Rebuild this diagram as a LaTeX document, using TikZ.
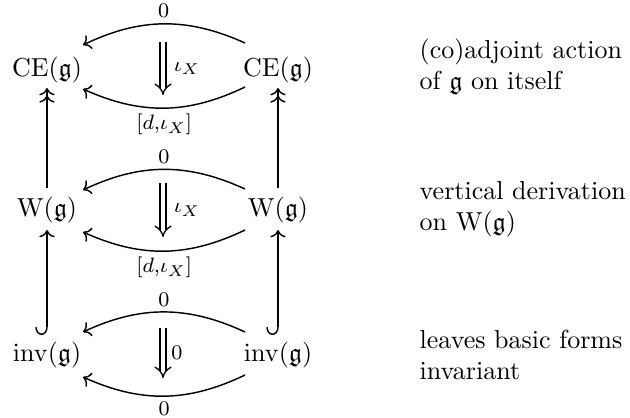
\documentclass[tikz,border=0pt]{standalone}
\usepackage{amssymb}
\usetikzlibrary{arrows,arrows.meta}
\begin{document}
\begin{tikzpicture}[x=0.3846pt,y=-0.3846pt,line width=0.55pt,
  obj/.style={inner sep=1pt},
  lbl/.style={font=\footnotesize,inner sep=2pt},
  upc/.style={->,bend right=25},
  dnc/.style={->,bend left=25},
  dbl/.style={double,line width=0.5pt,double distance=1.8pt,-implies},
  hk/.style={{Hooks[right,width=9pt,length=3pt]}->},
  note/.style={anchor=west,align=left,inner sep=0pt}]
\useasboundingbox (0,0) rectangle (630,417);
% objects
\node[obj] (CEl) at (47,70) {$\mathrm{CE}(\mathfrak{g})$};
\node[obj] (CEr) at (278,70) {$\mathrm{CE}(\mathfrak{g})$};
\node[obj] (Wl) at (47,210) {$\mathrm{W}(\mathfrak{g})$};
\node[obj] (Wr) at (278,210) {$\mathrm{W}(\mathfrak{g})$};
\node[obj] (Il) at (47,355) {$\mathrm{inv}(\mathfrak{g})$};
\node[obj] (Ir) at (278,355) {$\mathrm{inv}(\mathfrak{g})$};
% notes
\node[note] (n1) at (419,67) {(co)adjoint action\\of $\mathfrak{g}$ on itself};
\node[note] (n2) at (419,209) {vertical derivation\\on $\mathrm{W}(\mathfrak{g})$};
\node[note] (n3) at (419,355) {leaves basic forms\\invariant};
% CE row
\draw[upc] ([shift={(-33,-27)}]CEr.center) to node[lbl,above]{$0$} ([shift={(36,-25)}]CEl.center);
\draw[dnc] ([shift={(-33,17)}]CEr.center) to node[lbl,below]{$[d{,}\iota_X]$} ([shift={(36,19)}]CEl.center);
\coordinate (a1) at (163,42);
\coordinate (b1) at (163,95);
\draw[dbl] (a1) -- node[lbl,right,xshift=2pt]{$\iota_X$} (b1);
% W row
\draw[upc] ([shift={(-33,-21)}]Wr.center) to node[lbl,above]{$0$} ([shift={(36,-20)}]Wl.center);
\draw[dnc] ([shift={(-33,20)}]Wr.center) to node[lbl,below]{$[d{,}\iota_X]$} ([shift={(36,22)}]Wl.center);
\coordinate (a2) at (163,183);
\coordinate (b2) at (163,237);
\draw[dbl] (a2) -- node[lbl,right,xshift=2pt]{$\iota_X$} (b2);
% inv row
\draw[upc] ([shift={(-33,-23)}]Ir.center) to node[lbl,above]{$0$} ([shift={(36,-23)}]Il.center);
\draw[dnc] ([shift={(-33,20)}]Ir.center) to node[lbl,below]{$0$} ([shift={(36,22)}]Il.center);
\coordinate (a3) at (163,328);
\coordinate (b3) at (163,378);
\draw[dbl] (a3) -- node[lbl,right,xshift=1pt]{$0$} (b3);
% verticals
\draw[->>] ([shift={(0,-22)}]Wl.center) -- ([shift={(0,18)}]CEl.center);
\draw[->>] ([shift={(0,-22)}]Wr.center) -- ([shift={(0,18)}]CEr.center);
\draw[hk] ([shift={(0,-20)}]Il.center) -- ([shift={(0,20)}]Wl.center);
\draw[hk] ([shift={(0,-20)}]Ir.center) -- ([shift={(0,20)}]Wr.center);
\end{tikzpicture}
\end{document}
